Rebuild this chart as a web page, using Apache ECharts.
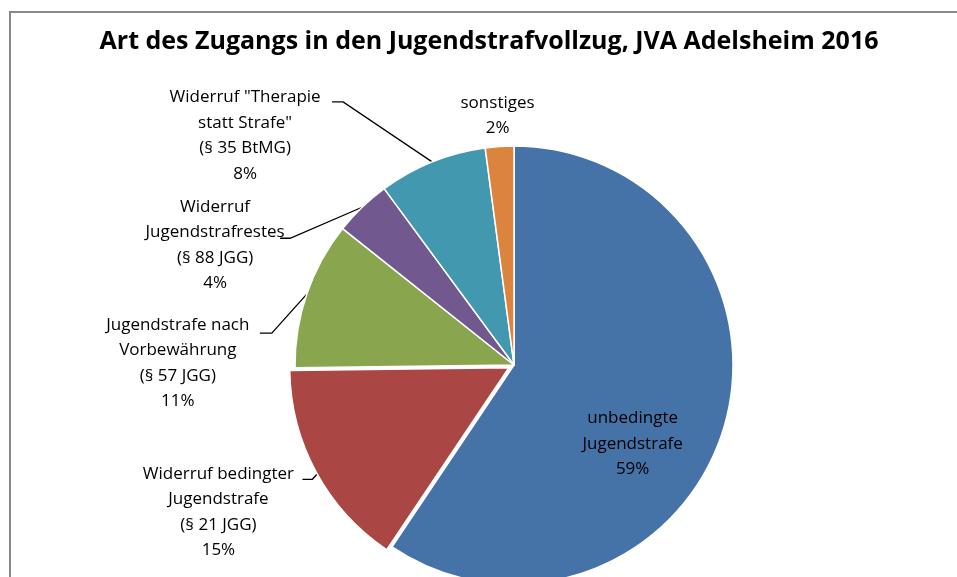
<!DOCTYPE html>
<html><head><meta charset="utf-8">
<script src="https://cdn.jsdelivr.net/npm/echarts@6/dist/echarts.min.js"></script>
<style>html,body{margin:0;padding:0;background:#fff}#c{width:957px;height:577px}</style>
</head><body><div id="c"></div>
<script>
// ---- data ----
const titleText = 'Art des Zugangs in den Jugendstrafvollzug, JVA Adelsheim 2016';
const categories = [
  'unbedingte\nJugendstrafe',
  'Widerruf bedingter\nJugendstrafe\n(§ 21 JGG)',
  'Jugendstrafe nach\nVorbewährung\n(§ 57 JGG)',
  'Widerruf\nJugendstrafrestes\n(§ 88 JGG)',
  'Widerruf "Therapie\nstatt Strafe"\n(§ 35 BtMG)',
  'sonstiges'
];
const shares = [59.4, 15.4, 10.9, 4.2, 8.0, 2.1];
const colors = ['#4572A7', '#AA4643', '#89A54E', '#71588F', '#4198AF', '#DB843D'];
const explodedIndex = 1;

// ---- label placement (style only): elbow offset from slice edge, label centre offset from line end ----
const labelStyle = [
  { inside: true, shift: [11, 46] },
  { elbow: [-9, 10], tail: 10, centre: [-84, 33] },
  { elbow: [-35, 39], tail: 12, centre: [-82, 30] },
  { elbow: [-72, 31], tail: 10, centre: [-65, 7] },
  { elbow: [-89, -60], tail: 11, centre: [-87, 34] },
  { noLine: true, centre: [-2, -31] }
];

const font = '"Open Sans", "Liberation Sans", sans-serif';
const chart = echarts.init(document.getElementById('c'), null, { renderer: 'canvas' });

const pieCenter = [514, 365];
const pieRadius = 219;
const explodeDist = 6;
const transparent = 'rgba(0,0,0,0)';

// explode direction for the highlighted slice (mid-angle of that slice)
const total = shares.reduce((a, b) => a + b, 0);
const before = shares.slice(0, explodedIndex).reduce((a, b) => a + b, 0);
const midFrac = (before + shares[explodedIndex] / 2) / total;
const midAng = midFrac * 2 * Math.PI; // clockwise from top
const explodedCenter = [pieCenter[0] + explodeDist * Math.sin(midAng), pieCenter[1] - explodeDist * Math.cos(midAng)];

const mainData = categories.map((c, i) => ({
  name: c,
  value: shares[i],
  itemStyle: i === explodedIndex ? { color: transparent, borderColor: transparent } : { color: colors[i] },
  label: i === 0 ? { position: 'inside' } : { position: 'outside' }
}));
const explodedData = categories.map((c, i) => ({
  name: c,
  value: shares[i],
  itemStyle: i === explodedIndex ? { color: colors[i] } : { color: transparent, borderColor: transparent }
}));

chart.setOption({
  animation: false,
  graphic: [
    { type: 'rect', shape: { x: 10, y: 12, width: 1000, height: 700 },
      style: { fill: 'none', stroke: '#898989', lineWidth: 2 }, z: 0 },
    { type: 'text', x: 489, y: 42,
      style: { text: titleText, align: 'center', verticalAlign: 'middle',
               font: 'bold 25px ' + font, fill: '#000' } }
  ],
  series: [{
    type: 'pie',
    center: pieCenter,
    radius: pieRadius,
    startAngle: 90,
    clockwise: true,
    avoidLabelOverlap: false,
    itemStyle: { borderColor: '#fff', borderWidth: 1.5 },
    label: {
      show: true,
      fontFamily: font,
      fontSize: 17,
      color: '#000',
      lineHeight: 25.5,
      align: 'center',
      formatter: p => p.name + '\n' + Math.round(p.percent) + '%'
    },
    labelLine: { show: true, length: 10, length2: 10, lineStyle: { color: '#000', width: 1.3 } },
    labelLayout: function (p) {
      const s = labelStyle[p.dataIndex];
      const r = p.labelRect;
      if (s.inside) {
        return { x: r.x + r.width / 2 + s.shift[0], y: r.y + r.height / 2 + s.shift[1],
                 align: 'center', verticalAlign: 'middle' };
      }
      const st = p.labelLinePoints[0];
      if (s.noLine) {
        return { x: st[0] + s.centre[0], y: st[1] + s.centre[1], align: 'center', verticalAlign: 'middle',
                 labelLinePoints: [st, st, st] };
      }
      const elbow = [st[0] + s.elbow[0], st[1] + s.elbow[1]];
      const end = [elbow[0] - s.tail, elbow[1]];
      return {
        x: end[0] + s.centre[0], y: end[1] + s.centre[1],
        align: 'center', verticalAlign: 'middle',
        labelLinePoints: [st, elbow, end]
      };
    },
    data: mainData
  }, {
    type: 'pie',
    center: explodedCenter,
    radius: pieRadius,
    startAngle: 90,
    clockwise: true,
    silent: true,
    itemStyle: { borderColor: '#fff', borderWidth: 1.5 },
    label: { show: false },
    labelLine: { show: false },
    data: explodedData
  }]
});
</script>
</body></html>
